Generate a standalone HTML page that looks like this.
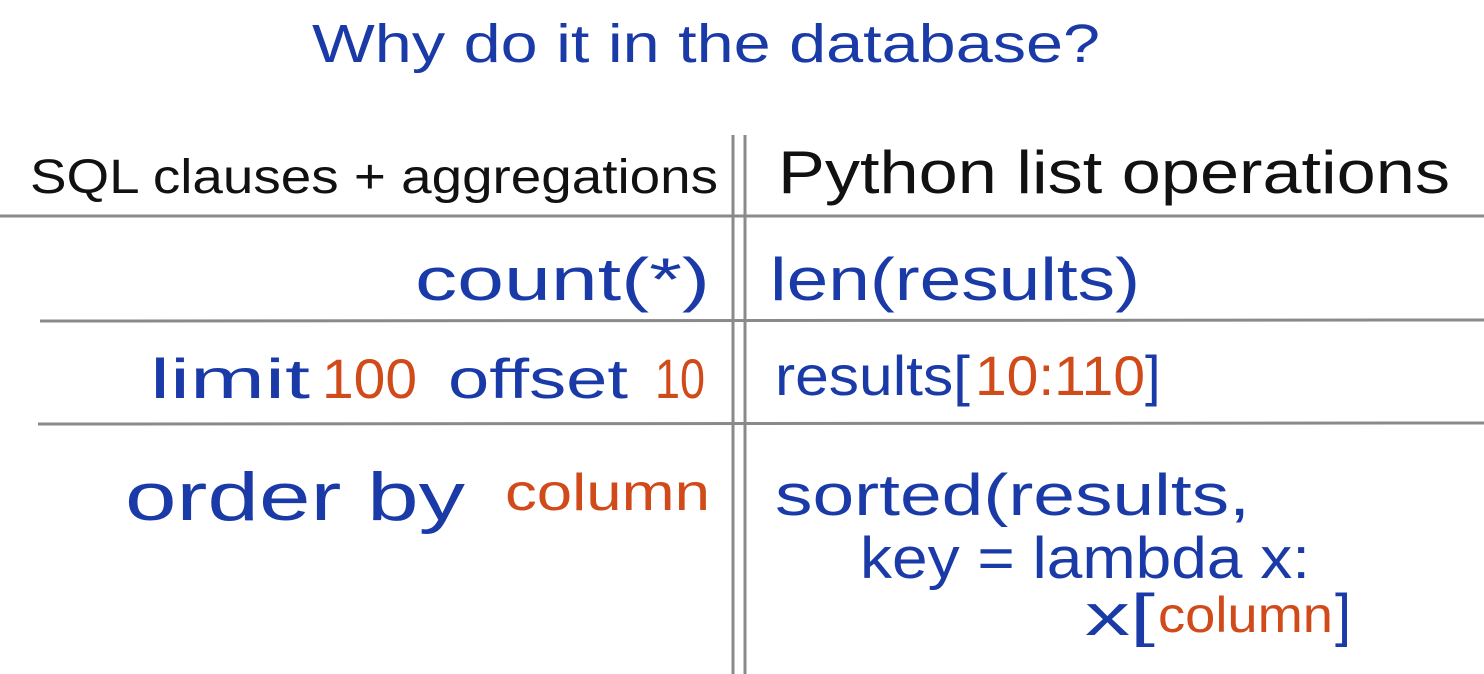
<!DOCTYPE html>
<html><head><meta charset="utf-8"><style>html,body{margin:0;padding:0;background:#fff;width:1484px;height:674px;overflow:hidden}</style></head>
<body>
<svg width="1484" height="674" viewBox="0 0 1484 674" xmlns="http://www.w3.org/2000/svg" font-family="Liberation Sans, sans-serif">
<rect width="1484" height="674" fill="#fff"/>
<g stroke="#8a8a8a" stroke-width="3" fill="none">
<line x1="0" y1="216" x2="1484" y2="216"/>
<line x1="40" y1="321" x2="1484" y2="320"/>
<line x1="38" y1="424" x2="1484" y2="423"/>
<line x1="733" y1="135" x2="733" y2="674"/>
<line x1="745" y1="135" x2="745" y2="674"/>
</g>
<g fill="#1a3aa8">
<text x="312" y="62" font-size="54" textLength="788" lengthAdjust="spacingAndGlyphs">Why do it in the database?</text>
<text x="415" y="300" font-size="60" textLength="295" lengthAdjust="spacingAndGlyphs">count(*)</text>
<text x="770" y="300" font-size="60" textLength="370" lengthAdjust="spacingAndGlyphs">len(results)</text>
<text x="150" y="398" font-size="56" textLength="160" lengthAdjust="spacingAndGlyphs">limit</text>
<text x="448" y="398" font-size="56" textLength="180" lengthAdjust="spacingAndGlyphs">offset</text>
<text x="775" y="395" font-size="56" textLength="195" lengthAdjust="spacingAndGlyphs">results[</text>
<text x="1145" y="395" font-size="56">]</text>
<text x="125" y="520" font-size="68" textLength="340" lengthAdjust="spacingAndGlyphs">order by</text>
<text x="775" y="515" font-size="58" textLength="475" lengthAdjust="spacingAndGlyphs">sorted(results,</text>
<text x="860" y="578" font-size="58" textLength="450" lengthAdjust="spacingAndGlyphs">key = lambda x:</text>
<text x="1085" y="635" font-size="58" textLength="70" lengthAdjust="spacingAndGlyphs">x[</text>
<text x="1335" y="635" font-size="58">]</text>
</g>
<g fill="#d04a1a">
<text x="322" y="398" font-size="56" textLength="95" lengthAdjust="spacingAndGlyphs">100</text>
<text x="655" y="398" font-size="56" textLength="50" lengthAdjust="spacingAndGlyphs">10</text>
<text x="975" y="395" font-size="56" textLength="170" lengthAdjust="spacingAndGlyphs">10:110</text>
<text x="505" y="510" font-size="52" textLength="205" lengthAdjust="spacingAndGlyphs">column</text>
<text x="1158" y="632" font-size="50" textLength="175" lengthAdjust="spacingAndGlyphs">column</text>
</g>
<g fill="#111">
<text x="30" y="193" font-size="48" textLength="688" lengthAdjust="spacingAndGlyphs">SQL clauses + aggregations</text>
<text x="778" y="193" font-size="60" textLength="672" lengthAdjust="spacingAndGlyphs">Python list operations</text>
</g>
</svg>
</body></html>
